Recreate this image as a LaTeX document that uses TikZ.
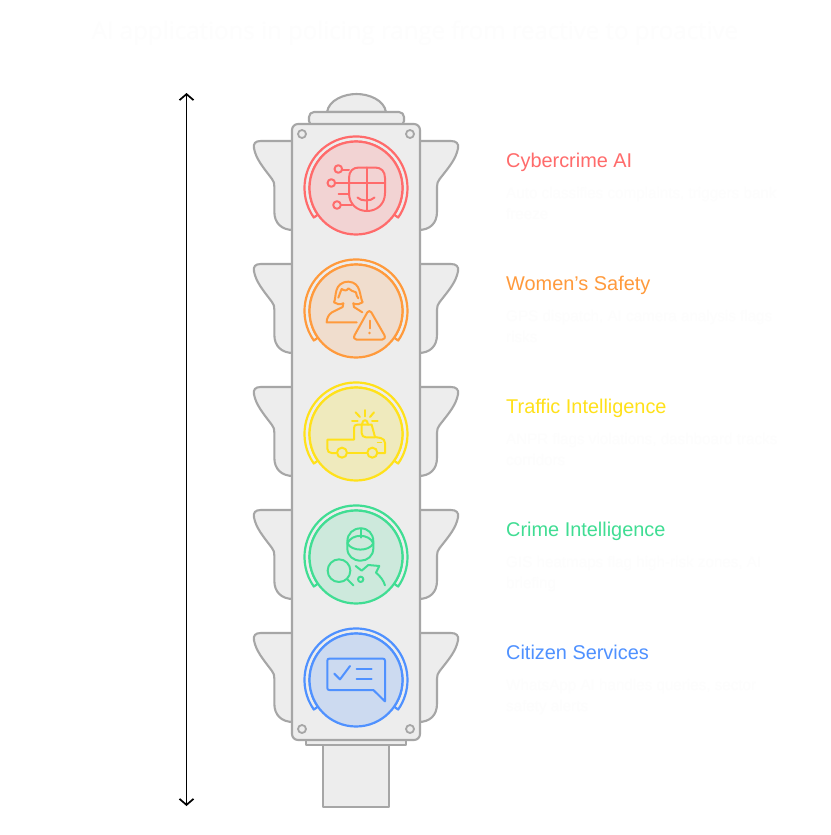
\documentclass[tikz,border=0pt]{standalone}
\usepackage{fontspec}
\setmainfont{Liberation Sans}
\newfontfamily\titlefont{Open Sans}
\usetikzlibrary{arrows.meta}
\definecolor{cA}{HTML}{FF6B6B}\definecolor{fA}{HTML}{F2D3D3}
\definecolor{cB}{HTML}{FF9A3C}\definecolor{fB}{HTML}{F0DDCD}
\definecolor{cC}{HTML}{FFE11A}\definecolor{fC}{HTML}{EFEABD}
\definecolor{cD}{HTML}{40DD93}\definecolor{fD}{HTML}{CDE9DC}
\definecolor{cE}{HTML}{4F91FF}\definecolor{fE}{HTML}{CCDAF0}
\definecolor{bodyfill}{HTML}{EDEDED}\definecolor{bodyline}{HTML}{A6A6A6}
\definecolor{faint}{HTML}{FDFDFD}
\tikzset{
  housing/.style={draw=bodyline,fill=bodyfill,line width=2.1pt,line join=round},
  iconline/.style={line width=2pt,line cap=round,line join=round},
  zoomed/.style={x=0.33333pt,y=-0.33333pt},
  heading/.style={anchor=base west,inner sep=0pt,font=\fontsize{19.9}{22}\selectfont},
  descr/.style={anchor=base west,inner sep=0pt,align=left,text=faint,font=\fontsize{15.2}{21}\selectfont},
  scale arrow/.style={black,line width=1.7pt,{Straight Barb[length=6pt,width=14pt]}-{Straight Barb[length=6pt,width=14pt]}}
}
\begin{document}
\begin{tikzpicture}[x=1pt,y=-1pt]
\useasboundingbox (0,0) rectangle (830,835);
\fill[white] (0,0) rectangle (830,835);
\node[anchor=base,inner sep=0pt,text=faint,font=\titlefont\fontsize{24}{28}\selectfont] (title) at (415,39) {AI applications in policing range from reactive to proactive};
% post and caps
\draw[housing] (323,745) rectangle (389,807);
\draw[housing] (306,738) rectangle (406,745);
\draw[housing] (327,112) .. controls (329,100) and (344,94) .. (356.5,94) .. controls (369,94) and (384,100) .. (386,112) -- cycle;
\draw[housing,rounded corners=5pt] (309,126) -- (309,112) -- (404,112) -- (404,126) -- cycle;
% wings
\foreach \dy in {0,123,246,369,492}{
  \begin{scope}[shift={(240,85+\dy)},zoomed]
    \draw[housing] (160,168) -- (62,168) .. controls (46,168) and (39,176) .. (42,190) .. controls (48,222) and (68,245) .. (96,282) .. controls (102,290) and (103,295) .. (103,305) -- (103,380) .. controls (103,415) and (125,435) .. (160,435) -- cycle;
    \draw[housing] (535,168) -- (633,168) .. controls (649,168) and (657,176) .. (654,190) .. controls (648,222) and (628,245) .. (599,282) .. controls (593,290) and (591,295) .. (591,305) -- (591,380) .. controls (591,415) and (570,435) .. (535,435) -- cycle;
  \end{scope}
}
% body
\draw[housing,rounded corners=6pt] (292,124) rectangle (420,740);
\foreach \bx/\by in {302/134,410/134,302/729,410/729}
  \draw[bodyline,line width=1.8pt] (\bx,\by) circle[radius=4];
% lenses
\foreach \dy/\c/\f in {0/cA/fA,123/cB/fB,246/cC/fC,369/cD/fD,492/cE/fE}{
  \begin{scope}[shift={(0,\dy)}]
    \draw[\c,line width=2.2pt,line cap=round,line join=round,fill=bodyfill]
      (313.8,217.5) arc[start angle=145,end angle=395,radius=51.5] -- (394.1,214.7) arc[start angle=35,end angle=-215,radius=46.5] -- cycle;
    \draw[\c,fill=\f,line width=2.2pt] (356,188) circle[radius=46.5];
  \end{scope}
}
% icon 1: cybercrime
\begin{scope}[iconline]
  \draw[cA] (349,178) .. controls (349,171) and (353,167.5) .. (359,167.5) -- (375,167.5) .. controls (381,167.5) and (385,171) .. (385,178) -- (385,193) .. controls (385,204) and (377,211) .. (367,211) .. controls (357,211) and (349,204) .. (349,193) -- cycle;
  \draw[cA] (366.5,167.5) -- (366.5,211);
  \draw[cA] (349,182.5) -- (385,182.5);
  \draw[cA] (357.5,197.5) .. controls (361,201.5) and (371,201.5) .. (374.5,197.5);
  \draw[cA] (338.3,169) circle[radius=3.8];
  \draw[cA] (342,170) -- (349,170);
  \draw[cA] (331.3,183) circle[radius=3.8];
  \draw[cA] (335,183) -- (349,183);
  \draw[cA] (338.5,194) -- (349,194);
  \draw[cA] (337,205) circle[radius=3.8];
  \draw[cA] (341,205) -- (352,205);
\end{scope}
% icon 2: women's safety
\begin{scope}[shift={(290,255)},zoomed,iconline,cB]
  \draw (160,145) .. controls (150,150) and (140,148) .. (132,142) .. controls (140,125) and (130,82) .. (175,80) .. controls (215,82) and (208,125) .. (218,142) .. controls (210,148) and (200,150) .. (190,145);
  \draw (145,128) .. controls (150,115) and (152,108) .. (155,102) .. controls (165,108) and (170,108) .. (175,100) .. controls (182,108) and (190,108) .. (198,112) .. controls (200,120) and (200,125) .. (205,130);
  \draw (160,145) -- (158,156) -- (126,172) .. controls (116,178) and (110,190) .. (110,202) -- (200,202);
  \draw (190,145) -- (192,156) -- (217,172);
  \draw (232,172) .. controls (235,167) and (241,167) .. (244,172) -- (283,240) .. controls (287,248) and (283,254) .. (276,254) -- (200,254) .. controls (193,254) and (190,248) .. (194,240) -- cycle;
  \draw (238.5,197) -- (238.5,220);
  \fill (238.5,234) circle[radius=4];
\end{scope}
% icon 3: traffic
\begin{scope}[shift={(290,378)},zoomed,iconline,cC]
  \draw (138,225) -- (125,225) .. controls (117,225) and (112,220) .. (112,212) -- (112,185) -- (192,185) -- (192,150) .. controls (192,143) and (195,140) .. (202,140) -- (245,140) -- (255,177) -- (272,180) .. controls (280,182) and (285,187) .. (285,195) -- (285,225) -- (263,225);
  \draw (172,225) -- (231,225);
  \draw (215,140) -- (215,165) .. controls (215,173) and (220,178) .. (228,178) -- (255,178);
  \draw (156,224) circle[radius=15];
  \draw (247,224) circle[radius=15];
  \draw (216,140) .. controls (216,122) and (234,122) .. (234,140);
  \draw (225,96) -- (225,115);
  \draw (197,103) -- (210,117);
  \draw (252,103) -- (240,117);
  \draw (186,130) -- (203,130);
  \draw (246,130) -- (263,130);
  \draw[line width=1pt] (262,192) -- (275,192);
\end{scope}
% icon 4: crime
\begin{scope}[shift={(290,500)},zoomed,iconline,cD]
  \draw (172,125) .. controls (172,100) and (190,85) .. (212,85) .. controls (234,85) and (250,100) .. (250,125) -- (250,145) .. controls (250,168) and (232,182) .. (212,182) .. controls (190,182) and (172,168) .. (172,145) -- cycle;
  \draw (172,130) .. controls (185,100) and (238,100) .. (250,130) .. controls (238,155) and (185,155) .. (172,130);
  \draw (212,85) -- (212,113);
  \draw (147,212) circle[radius=34];
  \draw (172,238) -- (190,256);
  \draw (197,198) -- (215,212) -- (235,195) -- (268,198) -- (258,218) .. controls (270,228) and (280,240) .. (285,256);
  \draw (212,238) circle[radius=8];
\end{scope}
% icon 5: citizen
\begin{scope}[shift={(290,622)},zoomed,iconline,cE]
  \draw (118,110) -- (279,110) .. controls (283,110) and (285,112) .. (285,116) -- (285,238) -- (250,204) -- (118,204) .. controls (114,204) and (112,202) .. (112,198) -- (112,116) .. controls (112,112) and (114,110) .. (118,110) -- cycle;
  \draw (133,155) -- (150,172) -- (180,132);
  \draw (200,140) -- (245,140);
  \draw (200,170) -- (245,170);
\end{scope}
% labels
\node[heading,text=cA] (h1) at (506,167) {Cybercrime AI};
\node[heading,text=cB] (h2) at (506,290) {Women's Safety};
\node[heading,text=cC] (h3) at (506,413) {Traffic Intelligence};
\node[heading,text=cD] (h4) at (506,536) {Crime Intelligence};
\node[heading,text=cE] (h5) at (506,659) {Citizen Services};
\node[descr] (d1) at (506,219) {Auto classifies complaints, triggers bank\\freeze};
\node[descr] (d2) at (506,342) {GPS dispatch, AI camera analysis flags\\risks};
\node[descr] (d3) at (506,465) {ANPR flags violations, dashboard tracks\\corridors};
\node[descr] (d4) at (506,588) {GIS heatmaps flag high-risk zones, AI\\briefing};
\node[descr] (d5) at (506,711) {WhatsApp AI handles queries, sector\\safety alerts};
% scale arrow
\coordinate (arrowtop) at (186.5,93);
\coordinate (arrowbottom) at (186.5,806);
\draw[scale arrow] (arrowtop) -- (arrowbottom);
\end{tikzpicture}
\end{document}
